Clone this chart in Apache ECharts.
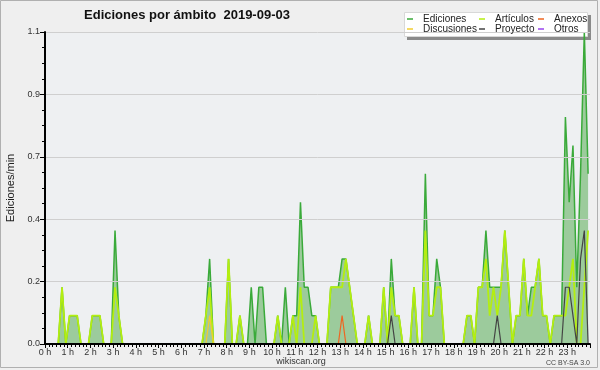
<!DOCTYPE html>
<html><head><meta charset="utf-8">
<script src="https://cdn.jsdelivr.net/npm/echarts@6/dist/echarts.min.js"></script>
<style>html,body{margin:0;padding:0;background:#efefef}#c{width:600px;height:370px}</style>
</head><body><div id="c"></div>
<script>
// hour tick labels
const hourLabels = ['0 h','1 h','2 h','3 h','4 h','5 h','6 h','7 h','8 h','9 h','10 h','11 h',
  '12 h','13 h','14 h','15 h','16 h','17 h','18 h','19 h','20 h','21 h','22 h','23 h'];
// 10-minute slots (categories)
const slotMinutes = ['00','10','20','30','40','50'];
const slots = [];
hourLabels.forEach((h, hi) => slotMinutes.forEach(m => slots.push(hi + ':' + m)));

// edits per minute, one row per hour (6 x 10-minute bins)
const ediciones = [
  0,0,0,0,0.2,0,        0.1,0.1,0.1,0,0,0,      0.1,0.1,0.1,0,0,0,      0.4,0.1,0,0,0,0,
  0,0,0,0,0,0,          0,0,0,0,0,0,            0,0,0,0,0,0,            0.1,0.3,0,0,0,0,
  0.3,0,0,0.1,0,0,      0.2,0,0.2,0.2,0,0,      0,0.1,0,0.2,0,0.1,      0.1,0.5,0.2,0.2,0.1,0.1,
  0,0,0,0.2,0.2,0.2,    0.3,0.3,0.2,0.1,0,0,    0,0.1,0,0,0,0.2,        0,0.3,0.1,0.1,0,0,
  0,0.2,0,0,0.6,0.1,    0.1,0.3,0.2,0,0,0,      0,0,0,0.1,0.1,0,        0.2,0.2,0.4,0.2,0.2,0.2,
  0.2,0.4,0.2,0,0.1,0.1, 0.3,0.1,0.2,0.2,0.3,0.1, 0.1,0,0.1,0.1,0.1,0.8, 0.5,0.7,0.2,0.6,1.1,0.6
];
const articulos = [
  0,0,0,0,0.2,0,        0.1,0.1,0.1,0,0,0,      0.1,0.1,0.1,0,0,0,      0.2,0.1,0,0,0,0,
  0,0,0,0,0,0,          0,0,0,0,0,0,            0,0,0,0,0,0,            0.1,0.2,0,0,0,0,
  0.3,0,0,0.1,0,0,      0,0,0,0,0,0,            0,0.1,0,0,0,0.1,        0,0.2,0,0,0,0.1,
  0,0,0,0.2,0.2,0.2,    0.2,0.3,0.2,0.1,0,0,    0,0.1,0,0,0,0.2,        0,0.2,0.1,0.1,0,0,
  0,0.2,0,0,0.4,0.1,    0.1,0.2,0.2,0,0,0,      0,0,0,0.1,0.1,0,        0.2,0.2,0.3,0.1,0.2,0.1,
  0.2,0.4,0.2,0,0.1,0.1, 0.3,0.1,0.1,0.2,0.3,0.1, 0.1,0,0.1,0.1,0.1,0.1, 0.2,0.3,0,0,0.2,0.4
];
const anexos = [
  0,0,0,0,0,0, 0,0,0,0,0,0, 0,0,0,0,0,0, 0,0,0,0,0,0,
  0,0,0,0,0,0, 0,0,0,0,0,0, 0,0,0,0,0,0, 0,0,0,0,0,0,
  0,0,0,0,0,0, 0,0,0,0,0,0, 0,0,0,0,0,0, 0,0,0,0,0,0,
  0,0,0,0,0,0, 0.1,0,0,0,0,0, 0,0,0,0,0,0, 0,0,0,0,0,0,
  0,0,0,0,0,0, 0,0,0,0,0,0, 0,0,0,0,0,0, 0,0,0,0,0,0,
  0,0,0,0,0,0, 0,0,0,0,0,0, 0,0,0,0,0,0, 0,0,0,0,0,0
];
const discusiones = [
  0,0,0,0,0,0, 0,0,0,0,0,0, 0,0,0,0,0,0, 0,0,0,0,0,0,
  0,0,0,0,0,0, 0,0,0,0,0,0, 0,0,0,0,0,0, 0,0.1,0,0,0,0,
  0,0,0,0,0,0, 0,0,0,0,0,0, 0,0,0,0,0,0, 0,0,0,0,0,0,
  0,0,0,0,0,0, 0,0,0,0,0,0, 0,0,0,0,0,0, 0,0,0,0,0,0,
  0,0,0,0,0,0, 0,0,0,0,0,0, 0,0,0,0,0,0, 0,0,0,0,0,0,
  0,0,0,0,0,0, 0,0,0,0,0,0, 0,0,0,0,0,0, 0,0,0,0,0,0
];
const proyecto = [
  0,0,0,0,0,0, 0,0,0,0,0,0, 0,0,0,0,0,0, 0,0,0,0,0,0,
  0,0,0,0,0,0, 0,0,0,0,0,0, 0,0,0,0,0,0, 0,0,0,0,0,0,
  0,0,0,0,0,0, 0,0,0,0,0,0, 0,0,0,0,0,0, 0,0,0,0,0,0,
  0,0,0,0,0,0, 0,0,0,0,0,0, 0,0,0,0,0,0, 0,0.1,0,0,0,0,
  0,0,0,0,0,0, 0,0,0,0,0,0, 0,0,0,0,0,0, 0,0,0,0,0,0.1,
  0,0,0,0,0,0, 0,0,0,0,0,0, 0,0,0,0,0,0.2, 0.2,0.1,0,0.3,0.4,0
];
const otros = [
  0,0,0,0,0,0, 0,0,0,0,0,0, 0,0,0,0,0,0, 0,0,0,0,0,0,
  0,0,0,0,0,0, 0,0,0,0,0,0, 0,0,0,0,0,0, 0,0,0,0,0,0,
  0,0,0,0,0,0, 0,0,0,0,0,0, 0,0,0,0,0,0, 0,0,0,0,0,0,
  0,0,0,0,0,0, 0,0,0,0,0,0, 0,0,0,0,0,0, 0,0,0,0,0,0,
  0,0,0,0,0,0, 0,0,0,0,0,0, 0,0,0,0,0,0, 0,0,0,0,0,0,
  0,0,0,0,0,0, 0,0,0,0,0,0, 0,0,0,0,0,0, 0,0,0,0,0,0
];

const FONT = '"Liberation Sans", "DejaVu Sans", sans-serif';
const chart = echarts.init(document.getElementById('c'), null, {renderer: 'canvas'});

function lineSeries(name, data, color, width, extra) {
  return Object.assign({
    type: 'line', name: name, data: data, xAxisIndex: 0, yAxisIndex: 0,
    symbol: 'none', showSymbol: false, animation: false,
    lineStyle: {color: color, width: width},
    itemStyle: {color: color},
    emphasis: {disabled: true}
  }, extra || {});
}

const legendCommon = {
  orient: 'vertical', top: 14, padding: 0, itemGap: 0, z: 120,
  icon: 'rect', itemWidth: 6, itemHeight: 1.5,
  selectedMode: false,
  textStyle: {fontFamily: FONT, fontSize: 10, color: '#222', lineHeight: 10, padding: [0,0,0,5]}
};

chart.setOption({
  backgroundColor: '#efefef',
  animation: false,
  grid: {left: 45, right: 10, top: 32, bottom: 26, show: true, backgroundColor: '#eef0f2', borderWidth: 0,
         containLabel: false, outerBoundsMode: 'none'},
  legend: [
    Object.assign({data: ['Ediciones', 'Discusiones'], left: 407}, legendCommon),
    Object.assign({data: ['Artículos', 'Proyecto'], left: 479}, legendCommon),
    Object.assign({data: ['Anexos', 'Otros'], left: 538}, legendCommon)
  ],
  xAxis: [
    {type: 'category', data: slots, boundaryGap: true, show: false},
    {type: 'value', min: 0, max: 24, interval: 1, position: 'bottom', z: 10,
     axisLine: {show: true, lineStyle: {color: '#000', width: 2}},
     axisTick: {show: true, length: 4, lineStyle: {color: '#000', width: 1}},
     minorTick: {show: true, splitNumber: 6, length: 3, lineStyle: {color: '#000', width: 1}},
     splitLine: {show: false},
     axisLabel: {fontFamily: FONT, fontSize: 9, color: '#333', margin: 4,
       formatter: v => hourLabels[v] !== undefined ? hourLabels[v] : ''}}
  ],
  yAxis: {
    type: 'value', min: 0, max: 1.1, interval: 0.22, z: 10,
    name: 'Ediciones/min', nameLocation: 'middle', nameGap: 29,
    nameTextStyle: {fontFamily: FONT, fontSize: 11, color: '#222'},
    axisLine: {show: true, lineStyle: {color: '#000', width: 2}},
    axisTick: {show: true, length: 5, lineStyle: {color: '#000'}},
    minorTick: {show: true, splitNumber: 4, length: 3, lineStyle: {color: '#000'}},
    splitLine: {show: true, lineStyle: {color: '#cfcfcf', width: 1}},
    axisLabel: {fontFamily: FONT, fontSize: 9, color: '#333', margin: 5, formatter: v => v.toFixed(1)}
  },
  series: [
    lineSeries('Ediciones', ediciones, '#3aaa3a', 1.5, {areaStyle: {color: '#9ccb9c', opacity: 1}, z: 2}),
    lineSeries('Artículos', articulos, '#b4ee10', 1.8, {z: 3}),
    lineSeries('Anexos', anexos, '#ee6622', 1.2, {z: 4}),
    lineSeries('Discusiones', discusiones, '#f2cc30', 1.2, {z: 4}),
    lineSeries('Proyecto', proyecto, '#444444', 1.2, {z: 5}),
    lineSeries('Otros', otros, '#9944ee', 1.2, {z: 1})
  ],
  graphic: [
    {type: 'rect', z: 100, silent: true, shape: {x: 0.5, y: 0.5, width: 597, height: 367},
     style: {fill: 'none', stroke: '#b0b0b0', lineWidth: 1}},
    {type: 'rect', z: 1, silent: true, shape: {x: 407, y: 15, width: 184, height: 25},
     style: {fill: '#8a8a8a'}},
    {type: 'rect', z: 2, silent: true, shape: {x: 404.5, y: 12.5, width: 183, height: 24},
     style: {fill: '#ffffff', stroke: '#d8d8d8', lineWidth: 1}},
    {type: 'text', z: 100, silent: true,
     style: {x: 187, y: 15, text: 'Ediciones por ámbito  2019-09-03', align: 'center', verticalAlign: 'middle',
             font: 'bold 13px ' + FONT, fill: '#111'}},
    {type: 'text', z: 100, silent: true,
     style: {x: 301, y: 362, text: 'wikiscan.org', align: 'center', verticalAlign: 'middle',
             font: '9px ' + FONT, fill: '#333'}},
    {type: 'text', z: 100, silent: true,
     style: {x: 590, y: 363, text: 'CC BY-SA 3.0', align: 'right', verticalAlign: 'middle',
             font: '7px ' + FONT, fill: '#444'}}
  ]
});
</script>
</body></html>
